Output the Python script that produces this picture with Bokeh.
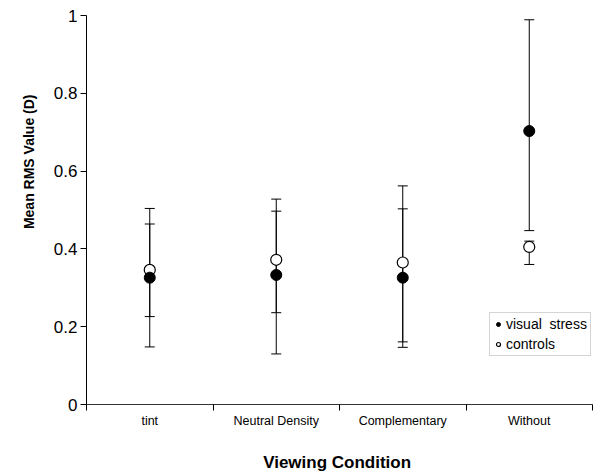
from bokeh.plotting import figure
from bokeh.models import ColumnDataSource, Whisker, FixedTicker, TeeHead, Title
from bokeh.embed import file_html
from bokeh.resources import INLINE

categories = ["tint", "Neutral Density", "Complementary", "Without"]
stress_mean = [0.326, 0.333, 0.326, 0.703]
stress_upper = [0.504, 0.528, 0.562, 0.989]
stress_lower = [0.148, 0.130, 0.147, 0.447]
control_mean = [0.346, 0.372, 0.365, 0.405]
control_upper = [0.464, 0.497, 0.503, 0.420]
control_lower = [0.226, 0.236, 0.161, 0.360]
y_ticks = [0, 0.2, 0.4, 0.6, 0.8, 1]

FONT = "Liberation Sans"
xs = [i + 0.5 for i in range(len(categories))]

p = figure(width=600, height=474, output_backend="svg", toolbar_location=None,
           x_range=(0, len(categories)), y_range=(0, 1),
           min_border_left=86, min_border_right=8, min_border_top=15, min_border_bottom=69)
p.outline_line_color = None
p.xgrid.grid_line_color = None
p.ygrid.grid_line_color = None
p.background_fill_color = "white"

s1 = ColumnDataSource(dict(x=xs, y=stress_mean, up=stress_upper, lo=stress_lower))
s2 = ColumnDataSource(dict(x=xs, y=control_mean, up=control_upper, lo=control_lower))

for src in (s1, s2):
    w = Whisker(source=src, base="x", upper="up", lower="lo", line_color="black", line_width=1,
                upper_head=TeeHead(size=10, line_color="black", line_width=1),
                lower_head=TeeHead(size=10, line_color="black", line_width=1))
    p.add_layout(w)

p.scatter("x", "y", source=s2, size=11, fill_color="white", line_color="black",
          line_width=1.2, legend_label="controls")
p.scatter("x", "y", source=s1, size=11, fill_color="black", line_color="black",
          legend_label="visual  stress")

# axes
p.xaxis.ticker = FixedTicker(ticks=xs, minor_ticks=list(range(len(categories) + 1)))
p.xaxis.major_label_overrides = {x: c for x, c in zip(xs, categories)}
p.xaxis.major_tick_out = 0
p.xaxis.major_tick_in = 0
p.xaxis.minor_tick_out = 6
p.xaxis.minor_tick_in = 0
p.xaxis.major_label_text_font = FONT
p.xaxis.major_label_text_font_size = "12.5px"
p.xaxis.major_label_standoff = 3
p.xaxis.axis_label = "Viewing  Condition"
p.xaxis.axis_label_text_font = FONT
p.xaxis.axis_label_text_font_style = "bold"
p.xaxis.axis_label_text_font_size = "17px"
p.xaxis.axis_label_standoff = 22
p.xaxis.axis_line_color = "#333333"

p.yaxis.ticker = FixedTicker(ticks=y_ticks, minor_ticks=[])
p.yaxis.major_label_overrides = {0: "0", 1: "1"}
p.yaxis.major_tick_out = 6
p.yaxis.major_tick_in = 0
p.yaxis.major_label_text_font = FONT
p.yaxis.major_label_text_font_size = "17px"
p.yaxis.major_label_standoff = 3
p.yaxis.axis_line_color = "black"

for ax in (p.xaxis, p.yaxis):
    ax.major_label_text_color = "black"
    ax.axis_label_text_color = "black"

ytitle = Title(text="Mean RMS Value (D)", align="right", offset=79, standoff=28,
               text_font=FONT, text_font_style="bold", text_font_size="14px",
               text_color="black")
p.add_layout(ytitle, "left")

lg = p.legend[0]
lg.items = list(reversed(lg.items))
lg.location = (403, 48)
lg.label_text_font = FONT
lg.label_text_font_size = "14px"
lg.label_text_color = "black"
lg.glyph_width = 10
lg.glyph_height = 16
lg.label_height = 16
lg.spacing = 4
lg.padding = 3
lg.margin = 0
lg.label_standoff = 3
lg.border_line_color = "#aaaaaa"
lg.border_line_width = 1
lg.background_fill_alpha = 1

open("out.html", "w").write(file_html(p, INLINE))
